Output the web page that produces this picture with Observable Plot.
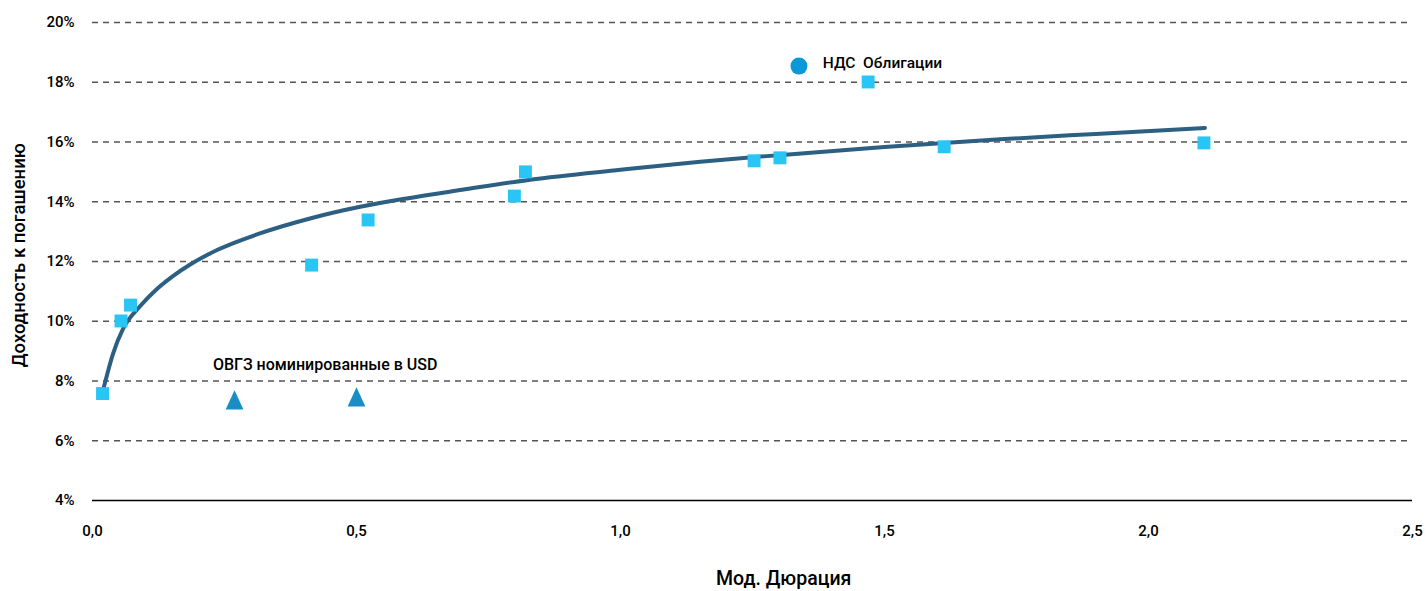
<!DOCTYPE html>
<html>
<head>
<meta charset="utf-8">
<script src="https://cdn.jsdelivr.net/npm/d3@7"></script>
<script src="https://cdn.jsdelivr.net/npm/@observablehq/plot@0.6"></script>
<style>
  html, body { margin: 0; padding: 0; background: #fff; }
  #chart svg { display: block; }
</style>
</head>
<body>
<div id="chart"></div>
<script>
// НДС Облигации (squares)
const ndsDuration = [0.019, 0.054, 0.072, 0.415, 0.522, 0.799, 0.820, 1.253, 1.302, 1.469, 1.613, 2.105];
const ndsYield    = [7.58, 10.01, 10.54, 11.88, 13.39, 14.19, 15.00, 15.37, 15.47, 18.01, 15.84, 15.97];

// ОВГЗ номинированные в USD (triangles)
const usdDuration = [0.269, 0.500];
const usdYield    = [7.37, 7.47];

// Trend curve
const trendDuration = [0.020, 0.039, 0.058, 0.090, 0.122, 0.153, 0.185, 0.238, 0.317, 0.412, 0.507, 0.595, 0.700, 0.829, 1.000, 1.151, 1.300, 1.500, 1.719, 1.900, 2.107];
const trendYield    = [7.69, 8.92, 9.75, 10.50, 11.08, 11.52, 11.90, 12.40, 12.94, 13.44, 13.83, 14.11, 14.40, 14.74, 15.07, 15.34, 15.56, 15.83, 16.09, 16.27, 16.47];

// Axis ticks
const xTicks = [0, 0.5, 1.0, 1.5, 2.0, 2.5];
const yTicks = [4, 6, 8, 10, 12, 14, 16, 18, 20];
const yGrid  = [6, 8, 10, 12, 14, 16, 18, 20];

// Titles and annotations (data coordinates)
const xTitle = [{x: 1.309, label: "Мод. Дюрация"}];
const yTitle = [{y: 12.21, label: "Доходность к погашению"}];
const legendMarker = [{x: 1.338, y: 18.54}];
const legendText = [{x: 1.383, y: 18.63, label: "НДС  Облигации"}];
const usdText = [{x: 0.228, y: 8.53, label: "ОВГЗ номинированные в USD"}];

const nds = ndsDuration.map((d, i) => ({x: d, y: ndsYield[i]}));
const usd = usdDuration.map((d, i) => ({x: d, y: usdYield[i]}));
const trend = trendDuration.map((d, i) => ({x: d, y: trendYield[i]}));

// Excel-like isosceles triangle (height slightly larger than base)
const tallTriangle = {
  draw(context, size) {
    const k = 1.09;
    const b = Math.sqrt(size * 2 / k);
    const h = b * k;
    context.moveTo(0, -h / 2);
    context.lineTo(b / 2, h / 2);
    context.lineTo(-b / 2, h / 2);
    context.closePath();
  }
};

const chart = Plot.plot({
  width: 1427,
  height: 591,
  marginLeft: 92,
  marginRight: 15,
  marginTop: 22,
  marginBottom: 91,
  style: {fontFamily: "Roboto, 'Liberation Sans', sans-serif", fontSize: "15px", fontWeight: 500, color: "#000", background: "#fff"},
  x: {
    domain: [0, 2.5],
    ticks: xTicks,
    tickFormat: d => d.toFixed(1).replace(".", ","),
    tickSize: 0,
    tickPadding: 25,
    label: null
  },
  y: {
    domain: [4, 20],
    ticks: yTicks,
    tickFormat: d => d + "%",
    tickSize: 0,
    tickPadding: 18,
    label: null
  },
  marks: [
    Plot.ruleY(yGrid, {stroke: "#555", strokeWidth: 1.3, strokeDasharray: "6,5", strokeOpacity: 1}),
    Plot.ruleY([4], {stroke: "#000", strokeWidth: 1.6}),
    Plot.line(trend, {x: "x", y: "y", stroke: "#2c5f82", strokeWidth: 4, curve: "monotone-x"}),
    Plot.dot(nds, {x: "x", y: "y", symbol: "square", r: 7.3, fill: "#29c5f5", stroke: "none"}),
    Plot.dot(usd, {x: "x", y: "y", symbol: tallTriangle, r: 7.4, fill: "#1a8ec4", stroke: "none"}),
    Plot.dot(legendMarker, {x: "x", y: "y", r: 8.5, fill: "#0a98d8", stroke: "none"}),
    Plot.text(legendText, {x: "x", y: "y", text: "label", textAnchor: "start", fontSize: 15.5, fontWeight: 500, fill: "#000"}),
    Plot.text(usdText, {x: "x", y: "y", text: "label", textAnchor: "start", fontSize: 16, fontWeight: 500, fill: "#000"}),
    Plot.text(xTitle, {x: "x", frameAnchor: "bottom", dy: 78, text: "label", textAnchor: "middle", lineAnchor: "middle", fontSize: 19.5, fontWeight: 500, fill: "#000"}),
    Plot.text(yTitle, {y: "y", frameAnchor: "left", dx: -73, rotate: -90, text: "label", textAnchor: "middle", lineAnchor: "middle", fontSize: 18.5, fontWeight: 500, fill: "#000"})
  ]
});

document.getElementById("chart").appendChild(chart);
</script>
</body>
</html>
